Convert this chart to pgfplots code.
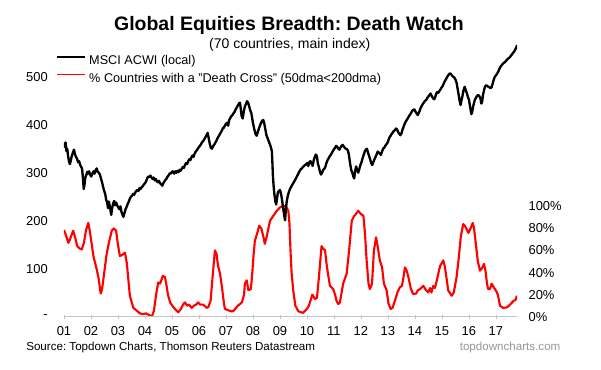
\documentclass[border=0pt]{standalone}
\usepackage{fontspec}
\setmainfont{Liberation Sans}
\usepackage{pgfplots}
\usepackage{pgfplotstable}
\pgfplotsset{compat=1.18}
\definecolor{axgrey}{RGB}{195,195,195}
\definecolor{srcgrey}{RGB}{150,150,150}
\definecolor{dcred}{RGB}{255,0,0}
\frenchspacing

\pgfplotstableread{
year pct
2001.00 78.6
2001.07 74
2001.16 67
2001.22 70
2001.34 78
2001.41 72
2001.49 64
2001.57 62
2001.66 61
2001.74 67
2001.81 78
2001.90 85
2001.96 77
2002.09 55
2002.21 43
2002.28 35
2002.36 21
2002.41 25
2002.48 38
2002.58 57
2002.67 68
2002.77 78
2002.85 80
2002.93 78
2003.00 65
2003.07 55
2003.15 56
2003.26 58
2003.33 48
2003.39 32
2003.44 19
2003.57 8
2003.67 6
2003.81 3
2003.94 2.4
2004.04 3
2004.11 2
2004.19 1
2004.25 0
2004.33 5
2004.41 20
2004.49 31
2004.56 30
2004.66 37
2004.74 36
2004.80 28
2004.85 20
2004.93 13
2005.04 9
2005.15 6
2005.23 4
2005.33 7
2005.41 11
2005.48 13
2005.56 10
2005.63 11
2005.73 8
2005.81 10
2005.89 11
2005.97 13
2006.04 11
2006.15 11
2006.29 8
2006.35 9
2006.43 14.5
2006.50 35
2006.59 60
2006.65 57
2006.70 47
2006.78 39
2006.85 27
2006.91 15
2006.96 7
2007.07 6
2007.19 5
2007.27 5
2007.37 8
2007.44 10
2007.52 11.5
2007.59 13
2007.67 20
2007.70 30
2007.77 33
2007.83 24
2007.92 25
2007.96 35
2008.02 55
2008.07 69
2008.15 75
2008.23 82.5
2008.31 80
2008.39 72
2008.44 66
2008.52 74
2008.63 87
2008.74 91
2008.88 96
2009.00 99
2009.12 100.6
2009.22 100
2009.31 96
2009.35 85
2009.39 60
2009.43 40
2009.49 24
2009.57 10
2009.68 5
2009.78 4
2009.85 3.5
2009.93 5.4
2010.00 7
2010.07 10
2010.20 20
2010.30 16
2010.37 17
2010.44 35
2010.54 64
2010.59 62
2010.67 60
2010.74 45
2010.85 28
2010.97 25
2011.04 20
2011.10 14
2011.16 11.5
2011.22 13
2011.34 30
2011.47 39
2011.56 60
2011.66 87
2011.74 91
2011.81 93
2011.90 96
2012.00 93
2012.09 91.6
2012.15 75
2012.21 51
2012.28 30
2012.33 25
2012.41 30
2012.48 60
2012.56 72
2012.63 62
2012.70 51
2012.78 45
2012.85 30
2012.95 24
2013.02 12
2013.10 7
2013.17 8
2013.26 14.5
2013.35 22
2013.44 26.6
2013.52 28
2013.57 35
2013.63 44.7
2013.69 42
2013.76 35.6
2013.85 25
2013.94 20.5
2014.04 21
2014.11 24
2014.19 25
2014.31 28
2014.41 24
2014.49 22
2014.56 26
2014.61 22
2014.68 28
2014.74 26
2014.81 33
2014.93 46
2015.05 51
2015.11 45
2015.17 35
2015.23 24
2015.36 19
2015.44 22
2015.54 35.6
2015.63 55
2015.70 73
2015.79 84
2015.86 82
2015.98 76
2016.06 80
2016.14 85
2016.19 80
2016.26 65
2016.33 50
2016.41 41.7
2016.48 44
2016.56 47.8
2016.61 42
2016.67 30
2016.71 25
2016.78 25
2016.84 30
2016.91 27
2017.00 23.6
2017.07 20
2017.15 10
2017.26 8
2017.40 8.4
2017.48 10
2017.56 12
2017.66 14.5
2017.72 15
2017.78 19
}\deathcross

\pgfplotstableread{
year acwi
2001.00 352
2001.03 360
2001.06 363
2001.09 345
2001.12 350
2001.15 335
2001.19 322
2001.22 318
2001.25 325
2001.29 335
2001.33 342
2001.37 348
2001.40 340
2001.44 333
2001.48 330
2001.52 322
2001.56 324
2001.60 316
2001.64 312
2001.67 308
2001.70 290
2001.73 266
2001.76 275
2001.79 290
2001.83 296
2001.86 302
2001.89 298
2001.93 303
2001.97 296
2002.01 292
2002.05 298
2002.09 303
2002.13 298
2002.17 305
2002.21 309
2002.25 302
2002.29 300
2002.33 296
2002.37 288
2002.41 280
2002.45 270
2002.49 262
2002.53 255
2002.56 244
2002.60 238
2002.63 226
2002.66 240
2002.69 232
2002.72 222
2002.75 212
2002.78 225
2002.82 236
2002.86 241
2002.89 232
2002.93 238
2002.97 232
2003.01 228
2003.05 224
2003.09 230
2003.13 218
2003.17 212
2003.20 208
2003.24 216
2003.28 224
2003.32 229
2003.36 235
2003.40 240
2003.44 246
2003.48 250
2003.52 252
2003.56 256
2003.60 254
2003.64 259
2003.68 262
2003.72 264
2003.76 262
2003.80 268
2003.84 266
2003.88 270
2003.92 272
2003.96 276
2004.00 278
2004.04 282
2004.08 288
2004.12 292
2004.16 291
2004.20 294
2004.24 290
2004.28 287
2004.32 290
2004.36 284
2004.40 287
2004.44 282
2004.48 280
2004.52 283
2004.56 278
2004.60 276
2004.64 273
2004.68 278
2004.72 282
2004.76 285
2004.80 288
2004.84 292
2004.88 295
2004.92 299
2004.96 298
2005.00 302
2005.04 303
2005.08 298
2005.12 303
2005.16 300
2005.20 304
2005.24 301
2005.28 306
2005.32 304
2005.36 308
2005.40 312
2005.44 310
2005.48 316
2005.52 320
2005.56 318
2005.60 324
2005.64 328
2005.68 326
2005.72 332
2005.76 336
2005.80 333
2005.84 340
2005.88 344
2005.92 347
2005.96 350
2006.00 354
2006.04 356
2006.08 360
2006.12 364
2006.16 366
2006.20 370
2006.24 374
2006.28 378
2006.32 383
2006.36 372
2006.40 360
2006.44 352
2006.48 350
2006.52 355
2006.56 358
2006.60 362
2006.64 366
2006.68 371
2006.72 375
2006.76 379
2006.80 383
2006.84 387
2006.88 392
2006.92 394
2006.96 398
2007.00 402
2007.04 404
2007.08 398
2007.12 410
2007.16 414
2007.20 418
2007.24 420
2007.28 424
2007.32 427
2007.36 432
2007.40 436
2007.44 440
2007.48 444
2007.52 446
2007.55 432
2007.58 418
2007.62 413
2007.66 428
2007.70 438
2007.74 443
2007.78 449
2007.82 446
2007.86 438
2007.90 430
2007.94 424
2007.98 410
2008.02 398
2008.06 388
2008.10 380
2008.14 377
2008.18 385
2008.22 392
2008.26 398
2008.30 404
2008.34 408
2008.38 410
2008.42 402
2008.46 390
2008.50 378
2008.54 372
2008.58 366
2008.62 360
2008.66 354
2008.70 345
2008.72 320
2008.74 292
2008.77 268
2008.80 252
2008.83 240
2008.86 234
2008.89 246
2008.92 258
2008.96 262
2009.00 264
2009.04 256
2009.08 242
2009.12 225
2009.16 210
2009.19 201
2009.22 225
2009.25 240
2009.29 252
2009.33 260
2009.37 266
2009.41 270
2009.45 274
2009.49 278
2009.53 282
2009.57 286
2009.61 290
2009.65 295
2009.69 299
2009.73 304
2009.77 307
2009.81 309
2009.85 312
2009.89 314
2009.93 316
2009.97 318
2010.01 320
2010.05 314
2010.09 322
2010.13 324
2010.17 319
2010.21 314
2010.25 326
2010.29 333
2010.33 338
2010.37 334
2010.40 320
2010.44 312
2010.48 302
2010.52 296
2010.56 300
2010.60 306
2010.64 308
2010.68 312
2010.72 320
2010.76 326
2010.80 330
2010.84 334
2010.88 337
2010.92 341
2010.96 345
2011.00 349
2011.04 352
2011.08 356
2011.12 354
2011.16 350
2011.20 348
2011.24 352
2011.28 356
2011.32 358
2011.36 355
2011.40 352
2011.44 350
2011.48 349
2011.52 346
2011.56 335
2011.60 318
2011.64 306
2011.68 300
2011.72 292
2011.75 288
2011.78 302
2011.82 313
2011.86 305
2011.90 300
2011.94 308
2011.98 316
2012.02 322
2012.06 330
2012.10 337
2012.14 344
2012.18 348
2012.22 350
2012.26 342
2012.30 335
2012.34 328
2012.38 320
2012.42 316
2012.46 322
2012.50 328
2012.54 333
2012.58 338
2012.62 344
2012.66 342
2012.70 340
2012.74 337
2012.78 344
2012.82 350
2012.86 352
2012.90 356
2012.94 359
2012.98 362
2013.02 368
2013.06 374
2013.10 377
2013.14 381
2013.18 384
2013.22 387
2013.26 389
2013.30 392
2013.34 390
2013.38 384
2013.42 381
2013.46 378
2013.50 382
2013.54 390
2013.58 396
2013.62 402
2013.66 407
2013.70 410
2013.74 414
2013.78 418
2013.82 421
2013.86 425
2013.90 429
2013.94 431
2013.98 432
2014.02 427
2014.06 424
2014.10 420
2014.14 424
2014.18 430
2014.22 436
2014.26 440
2014.30 444
2014.34 447
2014.38 450
2014.42 452
2014.46 456
2014.50 459
2014.54 462
2014.58 465
2014.62 460
2014.66 456
2014.70 453
2014.74 455
2014.78 464
2014.82 468
2014.86 466
2014.90 470
2014.94 473
2014.98 477
2015.02 480
2015.06 485
2015.10 490
2015.14 494
2015.18 498
2015.22 502
2015.26 505
2015.30 507
2015.34 505
2015.38 502
2015.42 500
2015.46 498
2015.50 494
2015.54 488
2015.58 475
2015.62 462
2015.66 448
2015.69 441
2015.72 450
2015.76 460
2015.80 472
2015.84 479
2015.88 472
2015.92 466
2015.96 458
2016.00 452
2016.03 442
2016.06 432
2016.09 422
2016.12 426
2016.15 436
2016.18 444
2016.22 452
2016.26 456
2016.30 460
2016.34 462
2016.38 460
2016.42 456
2016.46 444
2016.49 448
2016.52 462
2016.56 472
2016.60 480
2016.64 482
2016.68 481
2016.72 479
2016.76 478
2016.80 476
2016.84 478
2016.88 486
2016.92 494
2016.96 500
2017.00 503
2017.04 506
2017.08 510
2017.12 515
2017.16 520
2017.20 523
2017.24 526
2017.28 528
2017.32 530
2017.36 532
2017.40 535
2017.44 537
2017.48 539
2017.52 541
2017.56 544
2017.60 547
2017.64 550
2017.68 553
2017.72 557
2017.76 562
2017.78 566
}\acwi

\begin{document}
\frenchspacing
\begin{tikzpicture}
\useasboundingbox (0,0) rectangle (450.75pt,276.75pt);
\node[anchor=base, inner sep=0pt, font=\fontsize{14.6}{16}\selectfont\bfseries] at (216.75pt,253.7pt) {Global Equities Breadth: Death Watch};
\node[anchor=base, inner sep=0pt, font=\fontsize{10.5}{12}\selectfont] at (217.3pt,240.5pt) {(70 countries, main index)};
\node[anchor=base west, inner sep=0pt, font=\fontsize{8.7}{10}\selectfont] at (19.5pt,13.65pt) {Source: Topdown Charts, Thomson Reuters Datastream};
\node[anchor=base east, inner sep=0pt, text=srcgrey, font=\fontsize{8.7}{10}\selectfont] at (420.5pt,13.65pt) {topdowncharts.com};

% right axis: % countries with death cross
\begin{axis}[
  at={(48pt,39.225pt)}, anchor=south west,
  scale only axis, width=339.75pt, height=208.8pt,
  xmin=2001, xmax=2017.78, ymin=0, ymax=252.4,
  axis x line=none, axis y line*=right,
  y axis line style={draw=none}, ytick style={draw=none},
  ytick={0,20,40,60,80,100},
  yticklabels={0\%,20\%,40\%,60\%,80\%,100\%},
  /pgf/number format/assume math mode=true,
  yticklabel style={font=\fontsize{9.7}{11}\selectfont, anchor=west, inner sep=0pt, xshift=8.5pt},
  major tick length=0pt,
]
\addplot[dcred, line width=1.6pt, line join=round] table[x=year, y=pct] {\deathcross};
\end{axis}

% left axis: MSCI ACWI
\begin{axis}[
  at={(48pt,39.225pt)}, anchor=south west,
  scale only axis, width=339.75pt, height=208.8pt,
  xmin=2001, xmax=2017.78, ymin=0, ymax=580,
  axis x line*=bottom, axis y line*=left,
  x axis line style={axgrey, line width=0.8pt, -},
  y axis line style={draw=none}, ytick style={draw=none},
  xtick={2001,...,2017},
  xticklabels={01,02,03,04,05,06,07,08,09,10,11,12,13,14,15,16,17},
  xtick style={axgrey, line width=0.6pt},
  tick align=center, major tick length=3pt,
  ytick={0,100,200,300,400,500},
  yticklabels={-,100,200,300,400,500},
  /pgf/number format/assume math mode=true,
  ticklabel style={font=\fontsize{9.7}{11}\selectfont},
  yticklabel style={anchor=east, inner sep=0pt, xshift=-10.5pt},
  xticklabel style={inner sep=0pt, yshift=-6pt},
  legend style={at={(axis description cs:-0.0177,0.886)}, anchor=west, draw=none, fill=none, inner sep=0pt, row sep=4pt, column sep=2pt, font=\fontsize{9.5}{11}\selectfont, nodes={inner sep=0pt, text height=7pt, text depth=2pt}},
  legend cell align=left,
  legend image code/.code={\draw[#1] (0pt,3.2pt) -- (21pt,3.2pt);},
]
\addplot[black, line width=1.75pt, line join=round] table[x=year, y=acwi] {\acwi};
\addlegendentry{MSCI ACWI (local)}
\addlegendimage{dcred, line width=1.4pt}
\addlegendentry{\% Countries with a "Death Cross" (50dma<200dma)}
\end{axis}
\end{tikzpicture}
\end{document}
